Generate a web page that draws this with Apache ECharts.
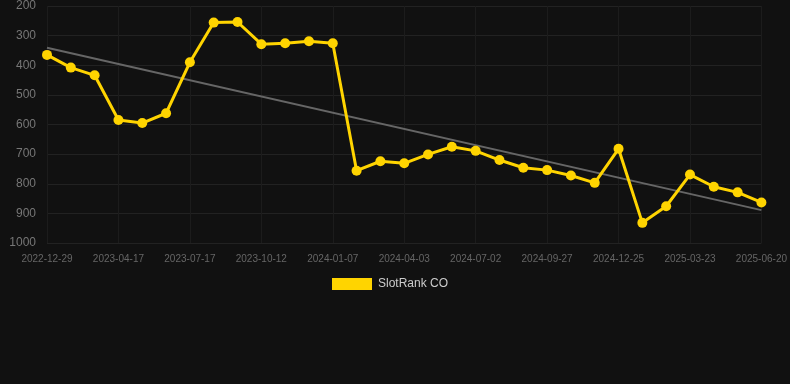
<!DOCTYPE html>
<html>
<head>
<meta charset="utf-8">
<script src="https://cdn.jsdelivr.net/npm/echarts@6/dist/echarts.min.js"></script>
<style>
html,body{margin:0;padding:0;background:#111111;}
#chart{width:790px;height:384px;}
</style>
</head>
<body>
<div id="chart"></div>
<script>
var categories = [
  '2022-12-29','2023-02-04','2023-03-12','2023-04-17','2023-05-17','2023-06-16',
  '2023-07-17','2023-08-15','2023-09-13','2023-10-12','2023-11-10','2023-12-09',
  '2024-01-07','2024-02-05','2024-03-05','2024-04-03','2024-05-02','2024-06-01',
  '2024-07-02','2024-07-31','2024-08-29','2024-09-27','2024-10-27','2024-11-25',
  '2024-12-25','2025-01-23','2025-02-21','2025-03-23','2025-04-22','2025-05-21',
  '2025-06-20'
];
var rankValues = [
  365, 408, 434, 585, 595, 562,
  390, 256, 254, 329, 326, 319,
  326, 756, 724, 731, 701, 675,
  689, 720, 746, 754, 772, 797,
  682, 932, 876, 769, 810, 829,
  863
];
var trendStart = 341;
var trendEnd = 889;
var yTicks = [200, 1000, 100];
var seriesName = 'SlotRank CO';

var trendValues = categories.map(function(c, i){
  if (i === 0) return trendStart;
  if (i === categories.length - 1) return trendEnd;
  return '-';
});

var chart = echarts.init(document.getElementById('chart'));
var font = 'Liberation Sans, Arial, sans-serif';
chart.setOption({
  backgroundColor: '#111111',
  animation: false,
  textStyle: {fontFamily: font},
  grid: {left: 47, right: 28, top: 6, bottom: 141, containLabel: false},
  legend: {
    data: [seriesName],
    top: 273,
    left: 327,
    itemWidth: 40,
    itemHeight: 12,
    itemGap: 10,
    icon: 'rect',
    textStyle: {color: '#cccccc', fontSize: 12, fontFamily: font, padding: [0, 0, 0, 1]}
  },
  xAxis: {
    type: 'category',
    data: categories,
    boundaryGap: false,
    axisLine: {show: false},
    axisTick: {show: false},
    axisLabel: {interval: 2, color: '#666666', fontSize: 10, margin: 11, fontFamily: font},
    splitLine: {show: true, interval: 2, lineStyle: {color: '#1c1c1c', width: 1}}
  },
  yAxis: {
    type: 'value',
    inverse: true,
    min: yTicks[0],
    max: yTicks[1],
    interval: yTicks[2],
    axisLine: {show: false},
    axisTick: {show: false},
    axisLabel: {color: '#777777', fontSize: 12, margin: 11, fontFamily: font,
      formatter: function(v){ return String(v); }},
    splitLine: {show: true, lineStyle: {color: '#222222', width: 1}}
  },
  series: [
    {
      name: 'Trend',
      type: 'line',
      data: trendValues,
      connectNulls: true,
      symbol: 'none',
      silent: true,
      lineStyle: {color: '#666666', width: 2},
      z: 1
    },
    {
      name: seriesName,
      type: 'line',
      data: rankValues,
      symbol: 'circle',
      symbolSize: 10,
      itemStyle: {color: '#ffd400'},
      lineStyle: {color: '#ffd400', width: 3},
      z: 2
    }
  ]
});
</script>
</body>
</html>
